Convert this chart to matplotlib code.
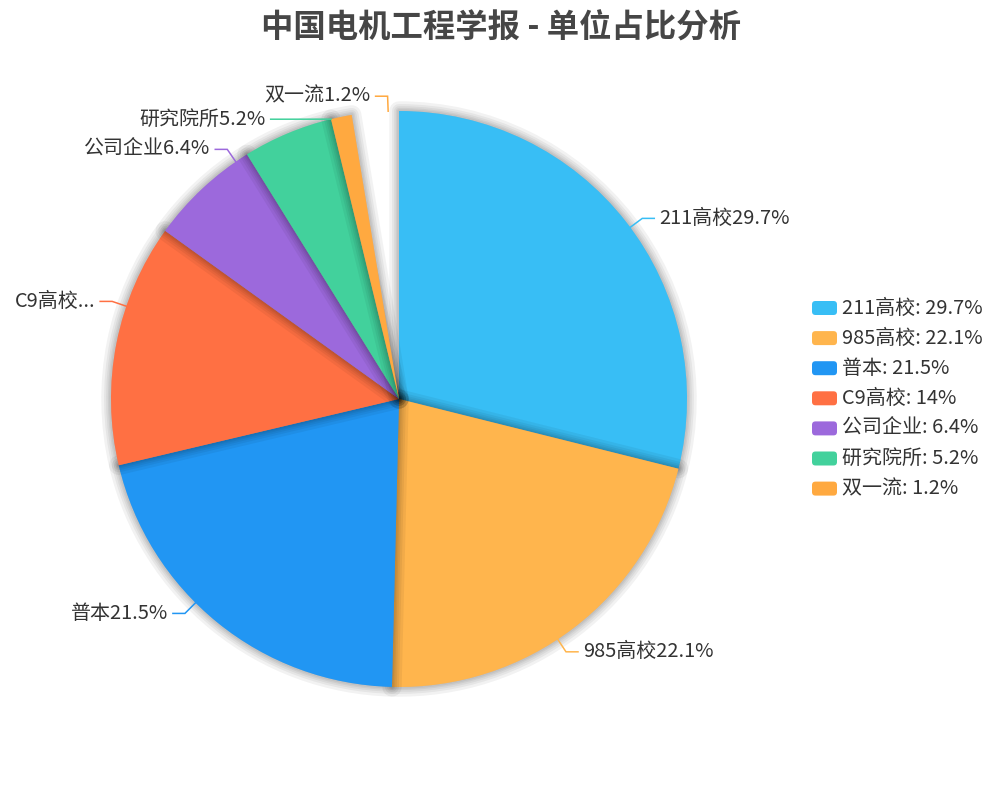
import numpy as np
import matplotlib
matplotlib.use('Agg')
import matplotlib.pyplot as plt
import matplotlib.patheffects as pe
from matplotlib.patches import FancyBboxPatch

plt.rcParams['font.family'] = ['Noto Sans CJK SC', 'DejaVu Sans']

# data
names = ['211高校', '985高校', '普本', 'C9高校', '公司企业', '研究院所', '双一流']
shares = [29.7, 22.1, 21.5, 14, 6.4, 5.2, 1.2]
share_text = ['29.7', '22.1', '21.5', '14', '6.4', '5.2', '1.2']
colors = ['#38BEF5', '#FFB54D', '#2196F3', '#FF7043', '#9C69DC', '#42D19C', '#FFA940']
blank_share = 2.7   # empty sector left at the top of the pie
title = '中国电机工程学报 - 单位占比分析'

W, H = 1000, 800
fig = plt.figure(figsize=(W / 100, H / 100), dpi=100)
ax = fig.add_axes([0, 0, 1, 1])

# pie in pixel-like data units (y up)
cx, cy, r = 399, H - 399, 288
wedges, _ = ax.pie(shares + [blank_share], colors=colors + ['none'],
                   startangle=90, counterclock=False, radius=r, center=(cx, cy),
                   wedgeprops=dict(linewidth=0))
ax.set_xlim(0, W)
ax.set_ylim(0, H)
ax.set_aspect('equal')
ax.axis('off')

# soft shadow around every slice
halo = [pe.Stroke(linewidth=w, foreground='black', alpha=0.05, joinstyle='round')
        for w in (14, 10, 7, 4.5, 2.5)]
for w in wedges[:-1]:
    w.set_path_effects(halo + [pe.Normal()])

fs = 14.4
# labels with leader lines
total = sum(shares)
mids = (np.cumsum(shares) - np.array(shares) / 2) / total * 2 * np.pi
R_el = r + 15
labels = []
for i, phi in enumerate(mids):
    ax_, ay_ = cx + r * np.sin(phi), cy + r * np.cos(phi)
    ex, ey = cx + R_el * np.sin(phi), cy + R_el * np.cos(phi)
    side = 1 if np.sin(phi) > 0 else -1
    labels.append(dict(i=i, anchor=(ax_, ay_), ey=ey, side=side))

gap = 23
for side in (1, -1):
    group = sorted([l for l in labels if l['side'] == side], key=lambda l: -l['ey'])
    prev = None
    for l in group:
        if prev is not None and l['ey'] > prev - gap:
            l['ey'] = prev - gap
        prev = l['ey']

margin = 10
renderer = fig.canvas.get_renderer()
for l in labels:
    i, side = l['i'], l['side']
    ax_, ay_ = l['anchor']
    ey = l['ey']
    dy = ey - cy
    ex = cx + side * np.sqrt(max(R_el ** 2 - dy ** 2, 0))
    if side < 0:
        ex = min(ex, ax_)
    else:
        ex = max(ex, ax_)
    endx = ex + side * 12
    ax.plot([ax_, ex, endx], [ay_, ey, ey], color=colors[i], lw=1.1,
            solid_joinstyle='miter')
    txt = names[i] + share_text[i] + '%'
    t = ax.text(endx + side * 5, ey, txt, ha='left' if side > 0 else 'right',
                va='center', fontsize=fs, color='#333333')
    bb = t.get_window_extent(renderer)
    if bb.x0 < margin or bb.x1 > W - margin:
        s = txt
        while len(s) > 1:
            s = s[:-1]
            t.set_text(s + '...')
            bb = t.get_window_extent(renderer)
            if bb.x0 >= margin and bb.x1 <= W - margin:
                break

# legend
for i, (n, s, c) in enumerate(zip(names, share_text, colors)):
    y = H - (308 + i * 30.1)
    ax.add_patch(FancyBboxPatch((812, y - 7), 25, 14,
                                boxstyle='round,pad=0,rounding_size=3.5',
                                facecolor=c, edgecolor='none'))
    ax.text(842, y, f'{n}: {s}%', ha='left', va='center', fontsize=fs,
            color='#333333')

fig.text(501 / W, 1 - 28 / H, title, ha='center', va='center', fontsize=23.3,
         fontweight='bold', color='#464646')

fig.savefig('out.png', dpi=100)
